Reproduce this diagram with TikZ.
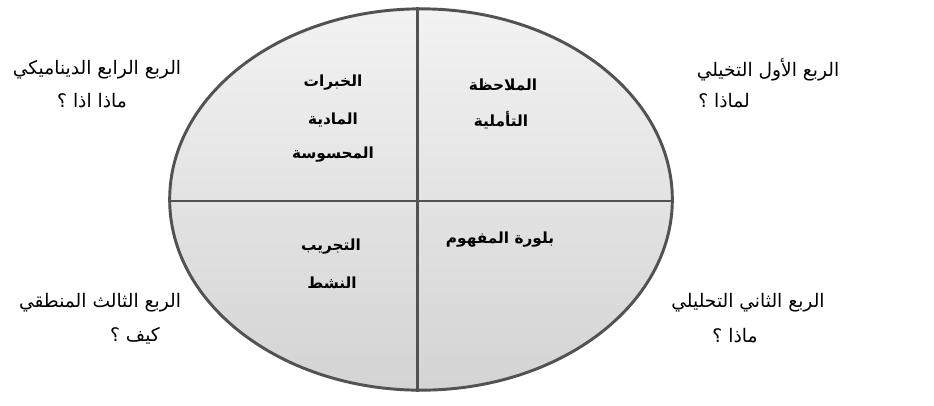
\documentclass[tikz,border=0pt]{standalone}
\usepackage{fontspec}
\newfontfamily\arabicfont[Script=Arabic]{DejaVu Sans}
\TeXXeTstate=1
\usetikzlibrary{shapes.geometric, positioning}

\begin{document}
\begin{tikzpicture} [x=0.75pt, y=-0.75pt,
        outer/.style = {font=\arabicfont\fontsize{14}{16}\selectfont, inner sep=0pt},
        inner/.style = {font=\arabicfont\bfseries\fontsize{11.5}{13}\selectfont, inner sep=0pt}]
        \useasboundingbox (0,0) rectangle (934,405);
        \node (c) [ellipse, draw=black!68, line width=2.2pt, minimum width=377pt, minimum height=286pt,
                   top color=black!5, bottom color=black!17] at (421,199.5) {};

        \coordinate (n) at ([xshift=-2.6pt]c.north);
        \coordinate (s) at ([xshift=-2.6pt]c.south);
        \coordinate (w) at ([yshift=-1.1pt]c.west);
        \coordinate (e) at ([yshift=-1.1pt]c.east);
        \path[draw=black!68, line width=2.2pt] (n) edge (s) (w) edge (e);

        % quadrants
        \node (a1) [inner] at (333,83)  {\beginR الخبرات\endR};
        \node (a2) [inner] at (333,120) {\beginR المادية\endR};
        \node (a3) [inner] at (333,155) {\beginR المحسوسة\endR};
        \node (b1) [inner] at (503,85)  {\beginR الملاحظة\endR};
        \node (b2) [inner] at (501,120) {\beginR التأملية\endR};
        \node (d1) [inner] at (500,240) {\beginR بلورة المفهوم\endR};
        \node (t1) [inner] at (331,247) {\beginR التجريب\endR};
        \node (t2) [inner] at (332,283) {\beginR النشط\endR};

        % outside labels
        \node (r4) [outer] at (97,70)   {\beginR الربع الرابع الديناميكي\endR};
        \node (q4) [outer] at (92,101)  {\beginR ماذا اذا ؟\endR};
        \node (r1) [outer] at (768,70)  {\beginR الربع الأول التخيلي\endR};
        \node (q1) [outer] at (724,101) {\beginR لماذا ؟\endR};
        \node (r3) [outer] at (100,303) {\beginR الربع الثالث المنطقي\endR};
        \node (q3) [outer] at (135,336) {\beginR كيف ؟\endR};
        \node (r2) [outer] at (748,303) {\beginR الربع الثاني التحليلي\endR};
        \node (q2) [outer] at (735,336) {\beginR ماذا ؟\endR};
    \end{tikzpicture}
\end{document}
